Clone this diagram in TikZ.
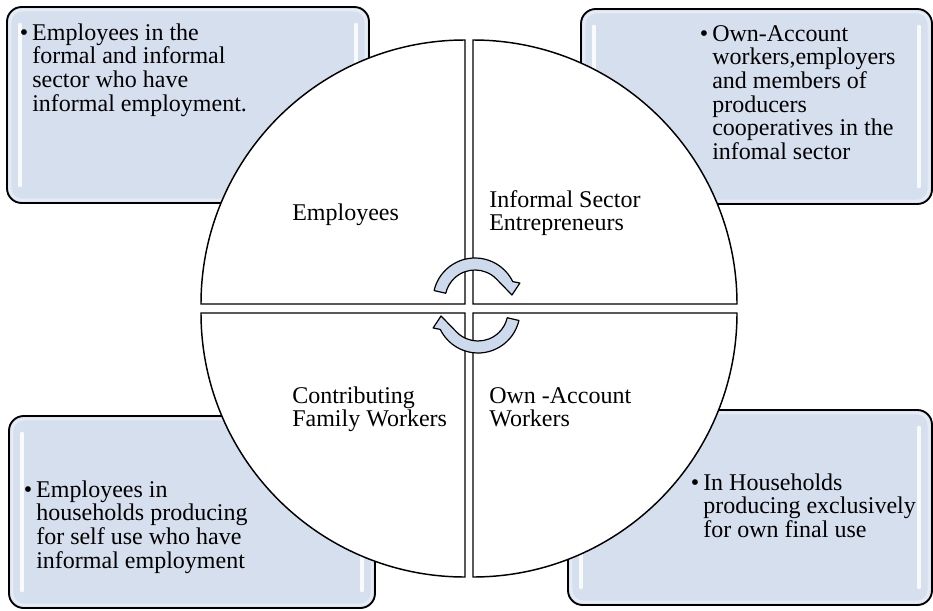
\documentclass[tikz,border=0pt]{standalone}
\usepackage{fontspec}
\setmainfont{Liberation Serif}
\definecolor{boxblue}{RGB}{214,223,238}
\definecolor{rimblue}{RGB}{229,236,246}
\definecolor{arrowblue}{RGB}{205,218,238}
\newcommand{\lines}[1]{\begin{tabular}[t]{@{}l@{}}#1\end{tabular}}
\newcommand{\bulletpt}{\llap{\textbullet\hspace{3pt}}}

\begin{document}
\begin{tikzpicture}[x=0.75pt,y=-0.75pt,
  info box/.style={draw=black,line width=1.4pt,fill=boxblue,rounded corners=11pt},
  rim/.style={draw=rimblue,line width=2pt,rounded corners=9pt},
  gloss/.style={white,line width=3.5pt,line cap=round,opacity=0.85},
  quad/.style={draw=black,line width=1.1pt,fill=white},
  cyc arrow/.style={draw=black,line width=0.9pt,fill=arrowblue,line join=round},
  main text/.style={anchor=base west,inner sep=0pt,font=\fontsize{18}{17.5}\selectfont}]

  \useasboundingbox (0,0) rectangle (933,611);

  % corner boxes
  \foreach \xa/\ya/\xb/\yb in {7/7/369/203, 581/9/932/204, 9/416/375/608, 568/410/932/605}{
    \path[info box] (\xa,\ya) rectangle (\xb,\yb);
    \path[rim] (\xa+3,\ya+3) rectangle (\xb-3,\yb-3);
    \draw[gloss] (\xa+13,\ya+18) -- (\xa+13,\yb-18);
    \draw[gloss] (\xb-13,\ya+18) -- (\xb-13,\yb-18);
  }

  % circle quarters
  \foreach \cx/\cy/\a in {465/304/180, 473/304/270, 473/313/0, 465/313/90}
    \draw[quad] (\cx,\cy) -- ++(\a:264) arc[start angle=\a,end angle=\a+90,radius=264] -- cycle;

  % cycle arrows
  \foreach \cx/\cy/\r in {475/300/0, 478/311/180}
    \draw[cyc arrow,shift={(\cx,\cy)},rotate=\r] (-167:30) -- (-167:42)
      arc[start angle=-167,end angle=-26,radius=42] -- (-20.7:48) -- (-7.7:37.3)
      -- (-44:30) arc[start angle=-44,end angle=-167,radius=30] -- cycle;

  \node[main text] (emp) at (292,220) {Employees};
  \node[main text] (ise) at (489,207) {\lines{Informal Sector\\Entrepreneurs}};
  \node[main text] (cfw) at (292,403) {\lines{Contributing\\Family Workers}};
  \node[main text] (oaw) at (489,403) {\lines{Own -Account\\Workers}};

  \node[main text] (emptxt) at (32,40) {\bulletpt\lines{Employees in the\\formal and informal\\sector who have\\informal employment.}};
  \node[main text] (isetxt) at (712,41) {\bulletpt\lines{Own-Account\\workers,employers\\and members of\\producers\\cooperatives in the\\infomal sector}};
  \node[main text] (cfwtxt) at (36,497) {\bulletpt\lines{Employees in\\households producing\\for self use who have\\informal employment}};
  \node[main text] (oawtxt) at (703,490) {\bulletpt\lines{In Households\\producing exclusively\\for own final use}};
\end{tikzpicture}
\end{document}
